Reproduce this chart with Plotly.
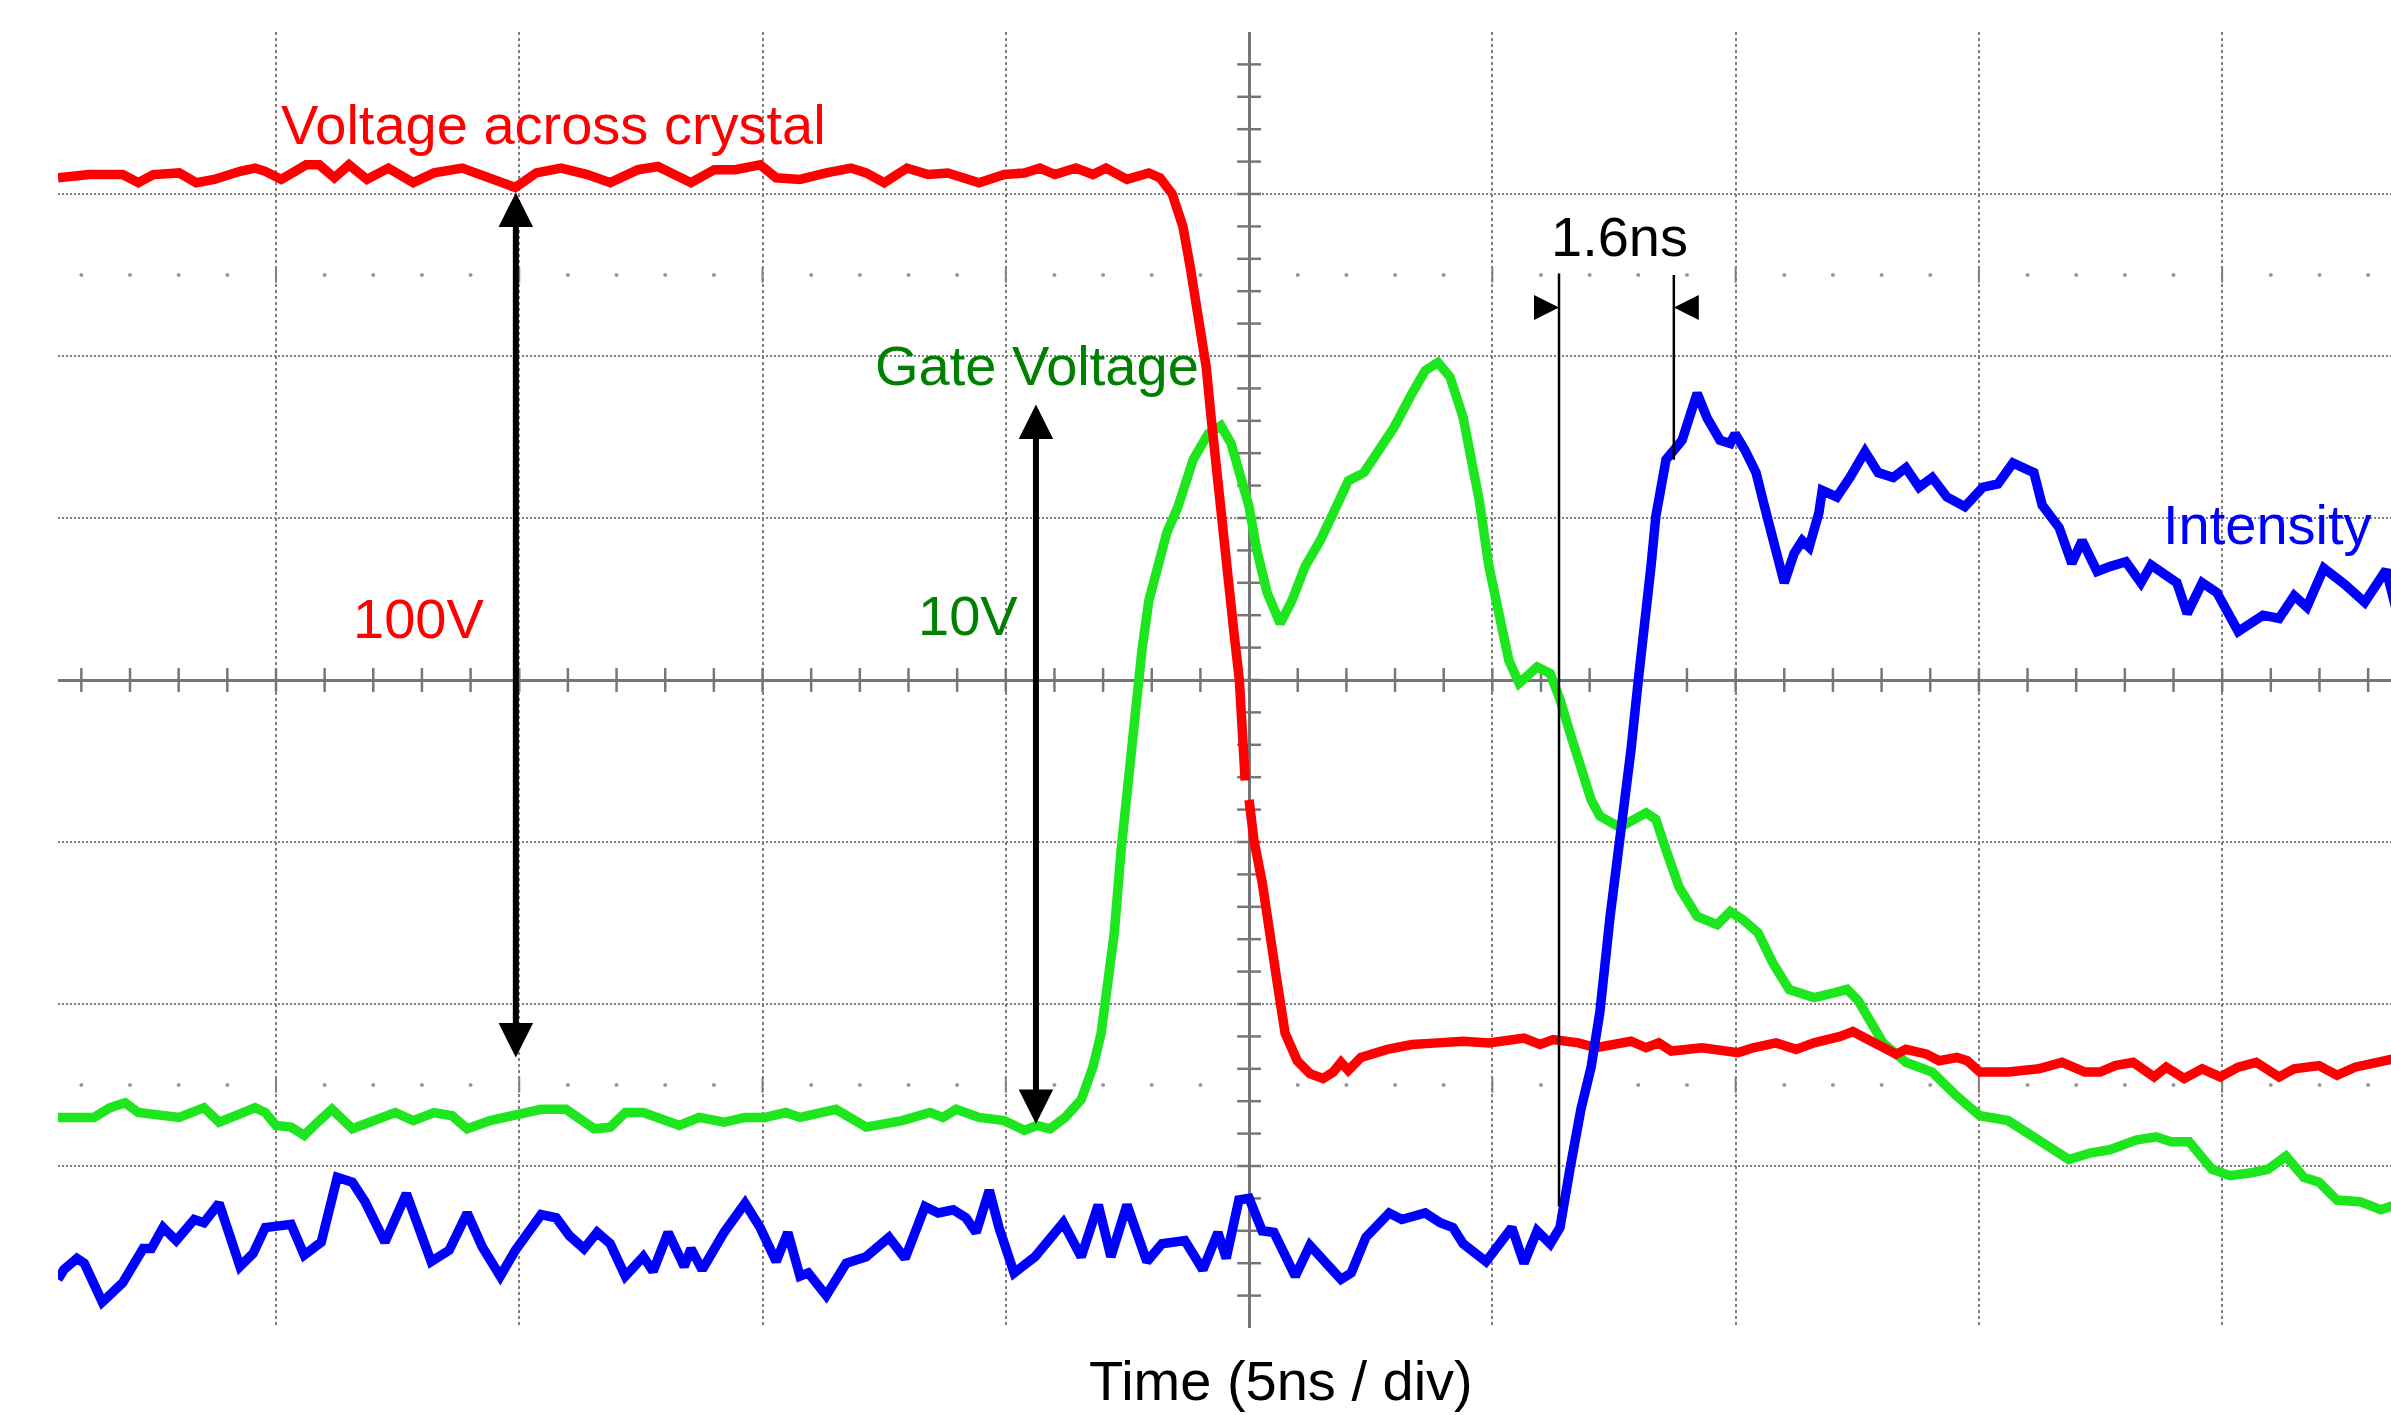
import numpy as np
import plotly.graph_objects as go

# ---------------- data (time in ns, amplitude in divisions) ----------------
red_t = [-24.48, -23.84, -23.15, -22.83, -22.52, -21.99, -21.64, -21.27, -20.74, -20.43,
         -20.22, -19.89, -19.38, -19.11, -18.80, -18.50, -18.13, -17.69, -17.18, -16.75,
         -16.17, -15.60, -15.08, -14.65, -14.14, -13.60, -13.13, -12.56, -12.15, -11.47,
         -10.99, -10.56, -10.05, -9.72, -9.23, -8.69, -8.18, -7.87, -7.50, -7.03,
         -6.60, -6.19, -5.55, -5.03, -4.62, -4.30, -3.99, -3.56, -3.21, -2.94,
         -2.51, -2.06, -1.83, -1.58, -1.36, -1.21, -1.05, -0.88, -0.78, -0.68,
         -0.58, -0.47, -0.31, -0.20, -0.12, -0.08, None, 0.00, 0.10, 0.27,
         0.41, 0.58, 0.74, 0.99, 1.25, 1.52, 1.73, 1.89, 2.04, 2.30,
         2.84, 3.35, 3.88, 4.40, 4.93, 5.65, 5.98, 6.25, 6.77, 7.13,
         7.85, 8.16, 8.42, 8.68, 9.31, 10.05, 10.36, 10.83, 11.24, 11.61,
         12.15, 12.41, 12.66, 13.09, 13.30, 13.50, 13.93, 14.18, 14.55, 14.76,
         15.02, 15.60, 16.23, 16.71, 17.18, 17.49, 17.80, 18.17, 18.60, 18.85,
         19.22, 19.59, 19.96, 20.33, 20.70, 21.17, 21.48, 21.99, 22.36, 22.73,
         23.26, 23.65]
red_v = [3.10, 3.12, 3.12, 3.07, 3.12, 3.13, 3.07, 3.09, 3.14, 3.16,
         3.14, 3.09, 3.18, 3.18, 3.10, 3.18, 3.09, 3.16, 3.07, 3.13,
         3.16, 3.10, 3.04, 3.13, 3.16, 3.12, 3.07, 3.15, 3.17, 3.07,
         3.15, 3.15, 3.18, 3.10, 3.09, 3.13, 3.16, 3.13, 3.07, 3.16,
         3.12, 3.13, 3.07, 3.12, 3.13, 3.16, 3.12, 3.16, 3.12, 3.16,
         3.09, 3.13, 3.10, 3.00, 2.80, 2.55, 2.24, 1.93, 1.62, 1.31,
         1.11, 0.70, 0.29, 0.00, -0.33, -0.62, None, -0.74, -0.99, -1.25,
         -1.56, -1.87, -2.18, -2.35, -2.43, -2.46, -2.42, -2.36, -2.41, -2.33,
         -2.28, -2.25, -2.24, -2.23, -2.24, -2.21, -2.25, -2.22, -2.24, -2.27,
         -2.23, -2.27, -2.24, -2.29, -2.27, -2.30, -2.27, -2.24, -2.28, -2.24,
         -2.20, -2.17, -2.21, -2.28, -2.31, -2.28, -2.31, -2.35, -2.33, -2.35,
         -2.42, -2.42, -2.40, -2.36, -2.42, -2.42, -2.38, -2.36, -2.45, -2.39,
         -2.46, -2.40, -2.45, -2.39, -2.36, -2.45, -2.40, -2.38, -2.44, -2.39,
         -2.36, -2.33]

green_t = [-24.48, -24.09, -23.74, -23.41, -23.10, -22.83, -22.42, -21.99, -21.48, -21.17,
           -20.84, -20.43, -20.22, -20.00, -19.69, -19.42, -19.11, -18.85, -18.43, -18.02,
           -17.55, -17.18, -16.75, -16.38, -16.07, -15.60, -15.08, -14.55, -14.04, -13.46,
           -13.13, -12.82, -12.45, -12.04, -11.71, -11.30, -10.79, -10.36, -9.95, -9.52,
           -9.23, -8.49, -7.87, -7.13, -6.56, -6.29, -6.02, -5.55, -5.03, -4.62,
           -4.36, -4.09, -3.78, -3.45, -3.21, -3.04, -2.94, -2.77, -2.63, -2.47,
           -2.30, -2.20, -2.06, -1.89, -1.69, -1.46, -1.15, -0.84, -0.58, -0.37,
           -0.21, -0.06, 0.00, 0.16, 0.37, 0.64, 0.88, 1.15, 1.46, 1.73,
           2.04, 2.36, 2.67, 2.98, 3.35, 3.62, 3.88, 4.13, 4.40, 4.60,
           4.73, 4.93, 5.14, 5.34, 5.55, 5.92, 6.19, 6.39, 6.60, 6.82,
           7.03, 7.21, 7.62, 8.16, 8.36, 8.57, 8.84, 9.21, 9.62, 9.89,
           10.15, 10.46, 10.77, 11.10, 11.61, 12.04, 12.29, 12.52, 12.76, 13.03,
           13.50, 14.04, 14.55, 15.02, 15.60, 16.13, 16.85, 17.28, 17.69, 18.23,
           18.64, 18.95, 19.32, 19.79, 20.16, 20.63, 20.94, 21.31, 21.68, 21.99,
           22.36, 22.83, 23.26, 23.65]
green_v = [-2.70, -2.70, -2.70, -2.64, -2.61, -2.67, -2.69, -2.70, -2.64, -2.73,
           -2.69, -2.64, -2.67, -2.75, -2.76, -2.81, -2.72, -2.65, -2.77, -2.72,
           -2.67, -2.72, -2.67, -2.69, -2.77, -2.72, -2.69, -2.65, -2.65, -2.77,
           -2.76, -2.67, -2.67, -2.72, -2.75, -2.70, -2.73, -2.70, -2.70, -2.67,
           -2.70, -2.65, -2.76, -2.72, -2.67, -2.70, -2.65, -2.70, -2.72, -2.78,
           -2.75, -2.77, -2.70, -2.59, -2.39, -2.18, -1.98, -1.56, -1.05, -0.54,
           -0.12, 0.19, 0.49, 0.70, 0.91, 1.07, 1.36, 1.52, 1.57, 1.46,
           1.28, 1.11, 1.07, 0.80, 0.54, 0.35, 0.49, 0.70, 0.86, 1.03,
           1.23, 1.28, 1.42, 1.56, 1.77, 1.91, 1.96, 1.87, 1.62, 1.31,
           1.11, 0.70, 0.39, 0.12, -0.02, 0.08, 0.04, -0.12, -0.33, -0.54,
           -0.74, -0.84, -0.91, -0.82, -0.86, -1.05, -1.28, -1.46, -1.51, -1.43,
           -1.48, -1.56, -1.75, -1.91, -1.96, -1.93, -1.91, -1.98, -2.10, -2.24,
           -2.36, -2.42, -2.57, -2.69, -2.72, -2.82, -2.96, -2.92, -2.90, -2.84,
           -2.82, -2.85, -2.85, -3.02, -3.06, -3.04, -3.02, -2.94, -3.07, -3.10,
           -3.21, -3.22, -3.27, -3.23]

blue_t = [-24.48, -24.36, -24.09, -23.94, -23.57, -23.15, -22.73, -22.56, -22.32, -22.05,
          -21.68, -21.48, -21.17, -20.74, -20.47, -20.22, -19.69, -19.42, -19.07, -18.74,
          -18.43, -18.17, -17.76, -17.32, -16.81, -16.44, -16.07, -15.76, -15.39, -15.08,
          -14.55, -14.24, -13.97, -13.67, -13.40, -13.13, -12.82, -12.45, -12.25, -11.94,
          -11.61, -11.47, -11.24, -10.79, -10.36, -10.05, -9.72, -9.48, -9.23, -9.06,
          -8.69, -8.28, -7.87, -7.40, -7.07, -6.66, -6.39, -6.08, -5.82, -5.61,
          -5.34, -5.14, -4.83, -4.40, -3.82, -3.45, -3.10, -2.84, -2.51, -2.10,
          -1.79, -1.32, -0.95, -0.64, -0.47, -0.21, 0.00, 0.27, 0.51, 0.95,
          1.25, 1.89, 2.10, 2.40, 2.88, 3.14, 3.62, 3.93, 4.19, 4.40,
          4.87, 5.40, 5.65, 5.92, 6.19, 6.39, 6.60, 6.82, 7.03, 7.21,
          7.42, 7.69, 7.85, 8.00, 8.16, 8.26, 8.36, 8.47, 8.57, 8.90,
          9.21, 9.41, 9.68, 9.89, 9.99, 10.19, 10.42, 10.56, 10.77, 11.00,
          11.20, 11.37, 11.51, 11.71, 11.78, 12.08, 12.35, 12.66, 12.93, 13.24,
          13.50, 13.77, 14.04, 14.34, 14.71, 15.08, 15.39, 15.70, 16.13, 16.30,
          16.65, 16.91, 17.12, 17.43, 17.69, 18.02, 18.33, 18.54, 19.07, 19.28,
          19.59, 19.89, 20.33, 20.84, 21.17, 21.48, 21.74, 22.09, 22.52, 22.93,
          23.37, 23.65]
blue_v = [-3.70, -3.64, -3.57, -3.60, -3.84, -3.72, -3.51, -3.51, -3.38, -3.46,
          -3.33, -3.35, -3.23, -3.62, -3.54, -3.38, -3.36, -3.55, -3.47, -3.07,
          -3.10, -3.22, -3.47, -3.17, -3.59, -3.52, -3.29, -3.50, -3.68, -3.52,
          -3.30, -3.32, -3.43, -3.51, -3.41, -3.48, -3.68, -3.56, -3.65, -3.41,
          -3.62, -3.51, -3.64, -3.41, -3.23, -3.38, -3.59, -3.41, -3.68, -3.66,
          -3.80, -3.60, -3.56, -3.44, -3.57, -3.25, -3.29, -3.27, -3.32, -3.41,
          -3.15, -3.38, -3.66, -3.56, -3.35, -3.56, -3.24, -3.56, -3.24, -3.59,
          -3.48, -3.46, -3.64, -3.41, -3.57, -3.21, -3.20, -3.40, -3.41, -3.68,
          -3.49, -3.70, -3.66, -3.44, -3.29, -3.33, -3.29, -3.35, -3.38, -3.48,
          -3.59, -3.38, -3.60, -3.40, -3.48, -3.38, -3.01, -2.65, -2.39, -2.05,
          -1.46, -0.84, -0.43, 0.00, 0.39, 0.70, 1.01, 1.20, 1.36, 1.48,
          1.77, 1.62, 1.48, 1.46, 1.52, 1.42, 1.28, 1.11, 0.86, 0.60,
          0.78, 0.86, 0.82, 1.03, 1.17, 1.13, 1.25, 1.41, 1.28, 1.25,
          1.31, 1.19, 1.25, 1.13, 1.07, 1.19, 1.21, 1.34, 1.28, 1.08,
          0.94, 0.72, 0.86, 0.67, 0.70, 0.73, 0.60, 0.71, 0.60, 0.41,
          0.60, 0.54, 0.30, 0.40, 0.38, 0.52, 0.45, 0.69, 0.59, 0.48,
          0.68, 0.35]

# annotation marks (ns, div)
arrow_100v = {"t": -15.07, "top": 3.01, "bottom": -2.34}
arrow_10v = {"t": -4.38, "top": 1.70, "bottom": -2.75}
delay_t1, delay_t2 = 6.37, 8.73
delay_line1 = (2.51, -3.25)
delay_line2 = (2.50, 1.36)
delay_arrow_v = 2.30

# ---------------- figure ----------------
FONT = "Arial, 'Liberation Sans', sans-serif"
GRID = "#808080"
AXIS = "#767676"
LW = 9.5

fig = go.Figure()

# graticule decorations: minor ticks on centre axes and dotted rows at +-2.5 div
ht = np.arange(-24, 24, 1.0)
fig.add_trace(go.Scatter(x=ht, y=np.zeros_like(ht), mode="markers", hoverinfo="skip",
                         marker=dict(symbol="line-ns", size=17, color=AXIS,
                                     line=dict(width=2.5, color=AXIS))))
vt = np.round(np.arange(-3.8, 3.81, 0.2), 2)
fig.add_trace(go.Scatter(x=np.zeros_like(vt), y=vt, mode="markers", hoverinfo="skip",
                         marker=dict(symbol="line-ew", size=17, color=AXIS,
                                     line=dict(width=2.5, color=AXIS))))
dots = np.array([t for t in ht if t % 5 != 0])
gx = np.array([-20, -15, -10, -5, 5, 10, 15, 20], dtype=float)
for row in (2.5, -2.5):
    fig.add_trace(go.Scatter(x=dots, y=np.full(dots.shape, row), mode="markers",
                             hoverinfo="skip",
                             marker=dict(symbol="circle", size=4, color="#999999")))
    fig.add_trace(go.Scatter(x=gx, y=np.full(gx.shape, row), mode="markers",
                             hoverinfo="skip",
                             marker=dict(symbol="line-ns", size=11, color=GRID,
                                         line=dict(width=2, color=GRID))))

# traces
fig.add_trace(go.Scatter(x=green_t, y=green_v, mode="lines", name="Gate Voltage",
                         line=dict(color="#1ee61e", width=LW)))
fig.add_trace(go.Scatter(x=red_t, y=red_v, mode="lines", name="Voltage across crystal",
                         line=dict(color="#ff0000", width=LW)))
fig.add_trace(go.Scatter(x=blue_t, y=blue_v, mode="lines", name="Intensity",
                         line=dict(color="#0000ff", width=LW)))

# 1.6ns marker lines
fig.add_trace(go.Scatter(x=[delay_t1, delay_t1], y=list(delay_line1), mode="lines",
                         hoverinfo="skip", line=dict(color="black", width=2.5)))
fig.add_trace(go.Scatter(x=[delay_t2, delay_t2], y=list(delay_line2), mode="lines",
                         hoverinfo="skip", line=dict(color="black", width=2.5)))

annotations = []
for a in (arrow_100v, arrow_10v):
    annotations.append(dict(x=a["t"], y=a["top"], ax=a["t"], ay=a["bottom"],
                            xref="x", yref="y", axref="x", ayref="y", text="",
                            showarrow=True, arrowside="end+start",
                            arrowhead=2, startarrowhead=2, arrowsize=1.15,
                            startarrowsize=1.15, arrowwidth=6, arrowcolor="black"))
annotations.append(dict(x=delay_t1, y=delay_arrow_v, ax=-18, ay=0, xref="x", yref="y",
                        text="", showarrow=True, arrowhead=2, arrowsize=2.5,
                        arrowwidth=2, arrowcolor="black"))
annotations.append(dict(x=delay_t2, y=delay_arrow_v, ax=18, ay=0, xref="x", yref="y",
                        text="", showarrow=True, arrowhead=2, arrowsize=2.5,
                        arrowwidth=2, arrowcolor="black"))

labels = [
    ("Voltage across crystal", -14.30, 3.43, "#ff0000"),
    ("Gate Voltage", -4.35, 1.94, "#008000"),
    ("100V", -17.08, 0.38, "#ff0000"),
    ("10V", -5.77, 0.40, "#008000"),
    ("1.6ns", 7.62, 2.74, "#000000"),
    ("Intensity", 20.94, 0.96, "#0000ff"),
]
for txt, x, y, c in labels:
    annotations.append(dict(x=x, y=y, xref="x", yref="y", text=txt, showarrow=False,
                            xanchor="center", yanchor="middle",
                            font=dict(family=FONT, size=56, color=c)))
annotations.append(dict(x=0.66, y=-0.0664, xref="x", yref="paper",
                        text="Time (5ns / div)", showarrow=False,
                        xanchor="center", yanchor="bottom",
                        font=dict(family=FONT, size=56, color="black")))

fig.update_layout(
    width=2391, height=1415,
    margin=dict(l=58, r=0, t=32, b=87),
    paper_bgcolor="white", plot_bgcolor="white",
    showlegend=False,
    annotations=annotations,
    xaxis=dict(range=[-24.48, 23.47], tickvals=[-20, -15, -10, -5, 5, 10, 15, 20],
               showticklabels=False, ticks="", showgrid=True, gridcolor=GRID,
               gridwidth=2, griddash="dot", zeroline=True, zerolinecolor=AXIS,
               zerolinewidth=3, showline=False, fixedrange=True),
    yaxis=dict(range=[-4, 4], tickvals=[-3, -2, -1, 1, 2, 3],
               showticklabels=False, ticks="", showgrid=True, gridcolor=GRID,
               gridwidth=2, griddash="2px,2px", zeroline=True, zerolinecolor=AXIS,
               zerolinewidth=3, showline=False, fixedrange=True),
)

fig.write_html("out.html",
               config={"displayModeBar": False},
               post_script="document.body.style.margin='0px';"
                           "document.body.style.overflow='hidden';")
